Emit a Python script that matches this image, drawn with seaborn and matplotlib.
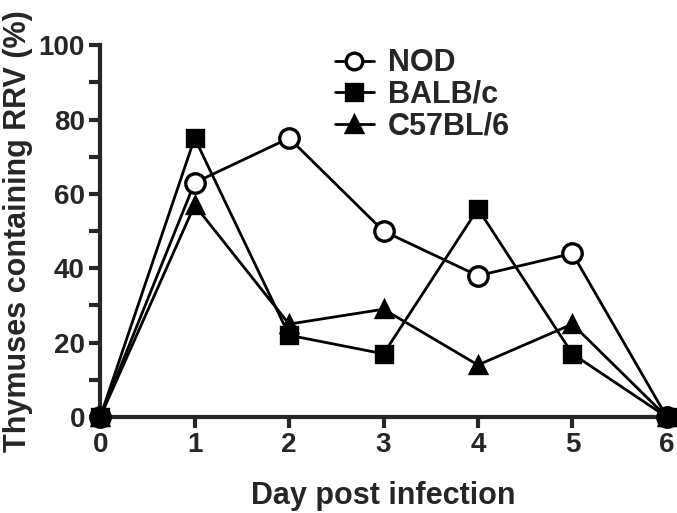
import numpy as np
import pandas as pd
import matplotlib
matplotlib.use("Agg")
import matplotlib.pyplot as plt
import seaborn as sns


# -----------------------------
# Data
# -----------------------------

days = [0, 1, 2, 3, 4, 5, 6]

nod = [0, 63, 75, 50, 38, 44, 0]
balbc = [0, 75, 22, 17, 56, 17, 0]
c57bl6 = [0, 57, 25, 29, 14, 25, 0]

strains = ["NOD", "BALB/c", "C57BL/6"]

df = pd.DataFrame({
    "Day": days * 3,
    "Pct": nod + balbc + c57bl6,
    "Strain": np.repeat(strains, len(days)),
})


# -----------------------------
# Plot
# -----------------------------

sns.set_style("ticks")
plt.rcParams["font.family"] = ["Liberation Sans", "DejaVu Sans"]
plt.rcParams["font.weight"] = "bold"

fig = plt.figure(figsize=(6.77, 5.13), dpi=100)
ax = fig.add_axes([0.148, 0.187, 0.837, 0.725])

marker_map = {"NOD": "o", "BALB/c": "s", "C57BL/6": "^"}
face_map = {"NOD": "white", "BALB/c": "black", "C57BL/6": "black"}
size_map = {"NOD": 14, "BALB/c": 12, "C57BL/6": 12}

for strain in strains:
    sub = df[df["Strain"] == strain]
    sns.lineplot(
        data=sub,
        x="Day",
        y="Pct",
        ax=ax,
        color="black",
        linewidth=2,
        marker=marker_map[strain],
        markersize=size_map[strain],
        markerfacecolor=face_map[strain],
        markeredgecolor="black",
        markeredgewidth=2.4,
        label=strain,
        clip_on=False,
        zorder=3,
    )

ax.set_xlim(0, 6)
ax.set_ylim(0, 100)
ax.set_xticks(days)
ax.set_yticks([0, 20, 40, 60, 80, 100])
ax.set_yticks([10, 30, 50, 70, 90], minor=True)

sns.despine(ax=ax)
for side in ["left", "bottom"]:
    ax.spines[side].set_linewidth(3)

ax.tick_params(axis="both", which="major", width=3, length=8,
               labelsize=20, pad=3)
ax.tick_params(axis="y", which="minor", width=3, length=8)
for lbl in ax.get_xticklabels() + ax.get_yticklabels():
    lbl.set_fontweight("bold")

ax.set_xlabel("Day post infection", fontsize=22, fontweight="bold",
              labelpad=16)
ax.set_ylabel("Thymuses containing RRV (%)", fontsize=22,
              fontweight="bold", labelpad=4)

leg = ax.legend(
    loc="upper left",
    bbox_to_anchor=(0.365, 1.065),
    frameon=False,
    handlelength=1.3,
    handletextpad=0.45,
    labelspacing=0.05,
    prop={"weight": "bold", "size": 22},
)
for h in leg.legend_handles:
    h.set_markersize(12)

plt.savefig("out.png", dpi=100)
plt.close()
